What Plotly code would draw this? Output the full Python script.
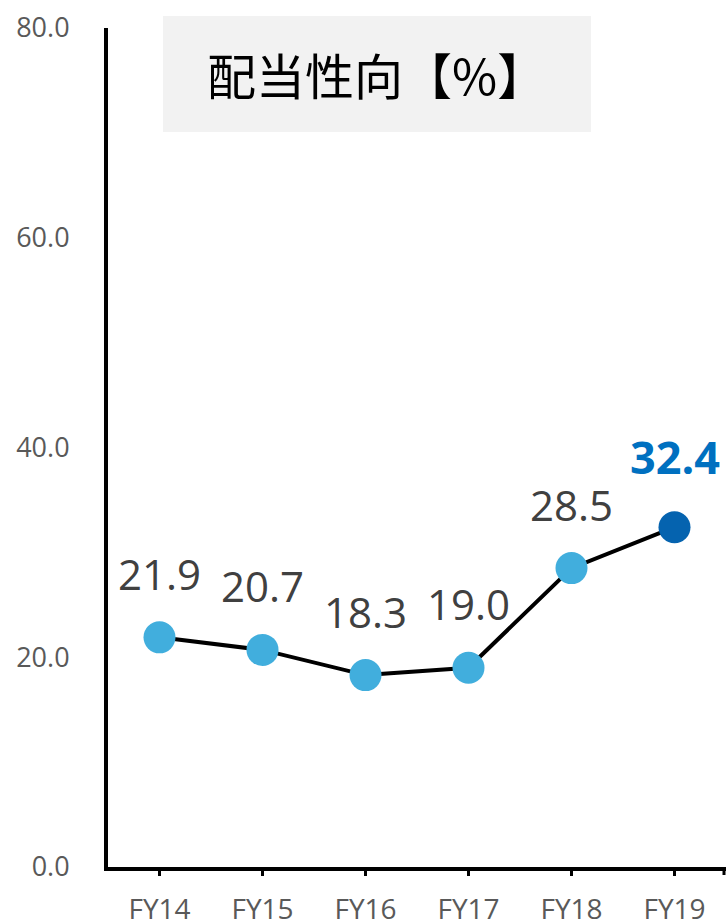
import plotly.graph_objects as go

categories = ["FY14", "FY15", "FY16", "FY17", "FY18", "FY19"]
values = [21.9, 20.7, 18.3, 19.0, 28.5, 32.4]
labels = ["21.9", "20.7", "18.3", "19.0", "28.5", "32.4"]
y_ticks = [0, 20, 40, 60, 80]
y_tick_labels = ["0.0", "20.0", "40.0", "60.0", "80.0"]
title_text = "配当性向【%】"

marker_colors = ["#41AEDD"] * 5 + ["#0563AF"]
num_font = "Open Sans, Noto Sans, sans-serif"

fig = go.Figure()
fig.add_trace(go.Scatter(
    x=categories, y=values, mode="lines+markers",
    line=dict(color="black", width=4),
    marker=dict(size=32, color=marker_colors, line=dict(width=0)),
    hoverinfo="skip", showlegend=False, cliponaxis=False,
))

for i, (c, v, t) in enumerate(zip(categories, values, labels)):
    last = i == len(categories) - 1
    fig.add_annotation(
        x=c, y=v, text=t, showarrow=False,
        yshift=71 if last else 64, yanchor="middle", xanchor="center",
        font=dict(family=num_font,
                  size=45 if last else 42,
                  color="#0070C0" if last else "#404040",
                  weight="bold" if last else "normal"),
    )

fig.add_shape(type="rect", xref="paper", yref="paper",
              x0=(163 - 108) / 618, x1=(591 - 108) / 618,
              y0=(867 - 132) / 839, y1=(867 - 16) / 839,
              fillcolor="#F2F2F2", line=dict(width=0), layer="below")
fig.add_annotation(xref="paper", yref="paper",
                   x=(376 - 108) / 618, y=(867 - 74) / 839,
                   text=title_text, showarrow=False,
                   xanchor="center", yanchor="middle",
                   font=dict(family="Noto Sans CJK JP", size=49, color="black"))

# end tick at right edge of the category axis
fig.add_shape(type="line", xref="paper", yref="paper",
              x0=(724 - 108) / 618, x1=(724 - 108) / 618,
              y0=-2 / 839, y1=-8 / 839,
              line=dict(color="black", width=3))

fig.update_layout(
    width=726, height=920,
    margin=dict(l=108, r=0, t=28, b=53),
    paper_bgcolor="white", plot_bgcolor="white",
    xaxis=dict(
        type="category", range=[-0.5, 5.5], automargin=False,
        showline=True, linecolor="black", linewidth=4,
        showgrid=False, zeroline=False,
        ticks="outside", ticklen=5, tickwidth=3, tickcolor="black",
        ticklabelstandoff=9,
        tickfont=dict(family=num_font, size=28, color="#595959"),
    ),
    yaxis=dict(
        range=[0, 80], tickvals=y_ticks, ticktext=y_tick_labels, automargin=False,
        showline=True, linecolor="black", linewidth=4,
        showgrid=False, zeroline=False, ticks="",
        ticklabelstandoff=29,
        tickfont=dict(family=num_font, size=27, color="#595959"),
    ),
)

fig.write_html("out.html", config={"displayModeBar": False, "staticPlot": True},
               post_script="document.body.style.margin='0';document.body.style.overflow='hidden';")
